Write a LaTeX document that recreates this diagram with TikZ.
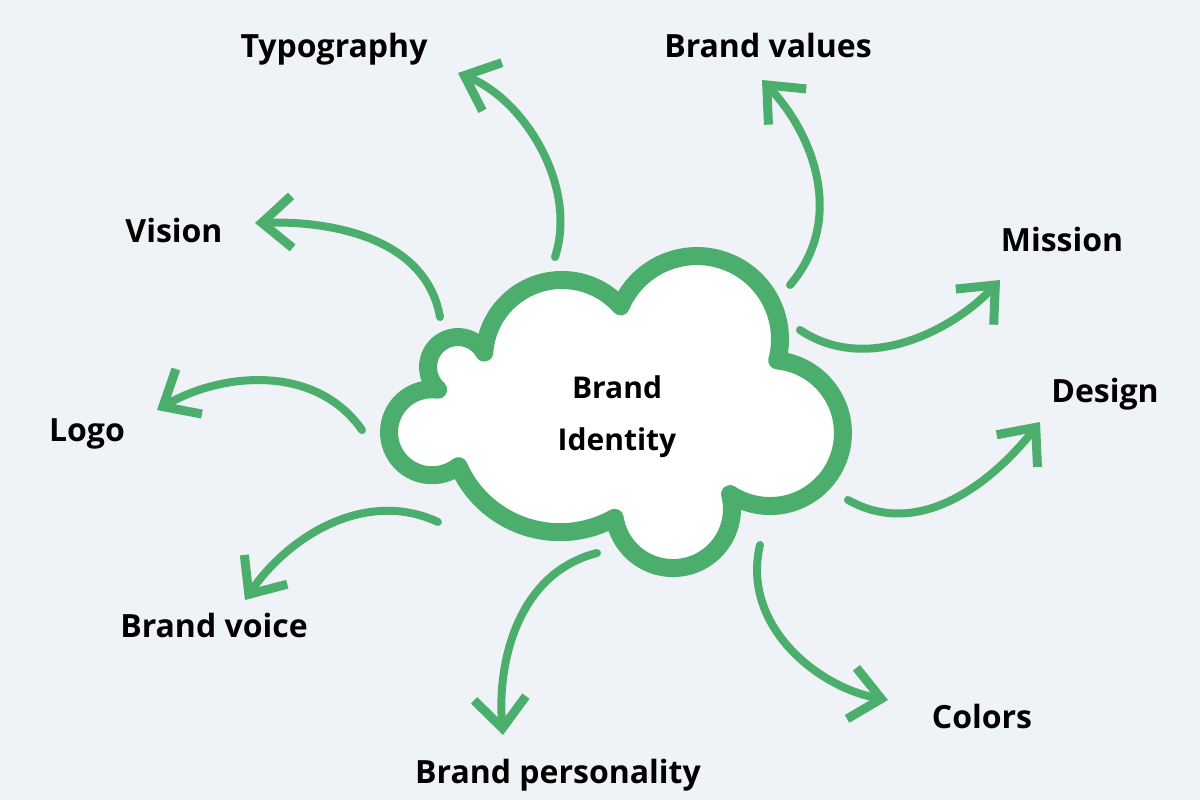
\documentclass[tikz,border=0pt]{standalone}
\usepackage{fontspec}
\setmainfont{Open Sans}
\usetikzlibrary{arrows.meta}
\definecolor{bg}{RGB}{239,242,246}
\definecolor{grn}{RGB}{76,174,108}
\begin{document}
\begin{tikzpicture}[x=1pt,y=-1pt,
  lbl/.style={font=\fontsize{32}{38}\selectfont\bfseries, text=black, inner sep=0pt, anchor=base},
  ctr/.style={font=\fontsize{30}{36}\selectfont\bfseries, text=black, inner sep=0pt, anchor=base},
  conn/.style={draw=grn, line width=8pt, line cap=round,
    -{Straight Barb[length=30pt,width=52pt,line width=9pt]}},
  cloudline/.style={draw=grn, fill=white, line width=18pt, line join=round}
]
\useasboundingbox (0,0) rectangle (1200,800);
\fill[bg] (0,0) rectangle (1200,800);

% cloud: seven circular lobes meeting at cusps
\coordinate (g) at (438.1,389.5);
\draw[cloudline] (g)
  arc[start angle=131.5, end angle=331.1, radius=30]
  arc[start angle=184,   end angle=318.7, radius=78]
  arc[start angle=203.1, end angle=374.9, radius=83]
  arc[start angle=-84.3, end angle=123.1, radius=73]
  arc[start angle=-14.6, end angle=171.5, radius=59]
  arc[start angle=60.5,  end angle=156.1, radius=111]
  arc[start angle=52,    end angle=278.2, radius=43]
  -- cycle;

% centre text
\node[ctr] (brand) at (617,398) {Brand};
\node[ctr] (identity) at (617,450) {Identity};

% labels
\node[lbl] (typo) at (334,58) {Typography};
\node[lbl] (values) at (768,58) {Brand values};
\node[lbl] (vision) at (174,242) {Vision};
\node[lbl] (mission) at (1062,251) {Mission};
\node[lbl] (logo) at (87,441) {Logo};
\node[lbl] (design) at (1105,402) {Design};
\node[lbl] (voice) at (214,637) {Brand voice};
\node[lbl] (person) at (558,783) {Brand personality};
\node[lbl] (colors) at (982,728) {Colors};

% connector end points
\coordinate (s1) at (555,257);  \coordinate (t1) at (458,73);
\coordinate (s2) at (790,285);  \coordinate (t2) at (762,80);
\coordinate (s3) at (440,317);  \coordinate (t3) at (255,223);
\coordinate (s4) at (800,330);  \coordinate (t4) at (1000,280);
\coordinate (s5) at (362,430);  \coordinate (t5) at (157,410);
\coordinate (s6) at (848,500);  \coordinate (t6) at (1040,422);
\coordinate (s7) at (438,522);  \coordinate (t7) at (245,600);
\coordinate (s8) at (597,553);  \coordinate (t8) at (503,735);
\coordinate (s9) at (760,545);  \coordinate (t9) at (888,700);

\draw[conn] (s1) .. controls (578,187) and (525,100) .. (t1);
\draw[conn] (s2) .. controls (845,221) and (815,136) .. (t2);
\draw[conn] (s3) .. controls (425,233) and (321,221) .. (t3);
\draw[conn] (s4) .. controls (867,375) and (953,330) .. (t4);
\draw[conn] (s5) .. controls (315,363) and (221,373) .. (t5);
\draw[conn] (s6) .. controls (921,541) and (994,480) .. (t6);
\draw[conn] (s7) .. controls (365,488) and (288,537) .. (t7);
\draw[conn] (s8) .. controls (518,573) and (497,662) .. (t8);
\draw[conn] (s9) .. controls (741,625) and (817,687) .. (t9);
\end{tikzpicture}
\end{document}
